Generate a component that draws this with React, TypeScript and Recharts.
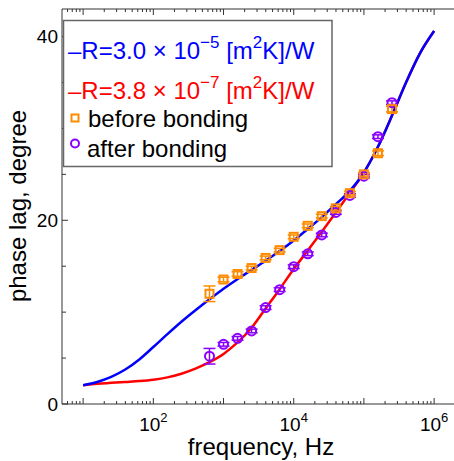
import React from 'react';
import { ComposedChart, Line, Scatter, XAxis, YAxis, ErrorBar } from 'recharts';

// Model curves (frequency in Hz, phase lag in degrees)
const curveFreq = [10, 15.85, 25.12, 39.81, 63.1, 100, 158.5, 251.2, 398.1, 631, 1000, 1585, 2512, 3981, 6310, 10000, 15849, 25119, 39811, 63096, 100000, 158489, 251189, 398107, 630957, 1000000];
const curveHighR = [2.05, 2.4, 2.95, 3.75, 4.85, 6.2, 7.6, 8.95, 10.2, 11.4, 12.55, 13.6, 14.6, 15.6, 16.65, 17.8, 19.05, 20.35, 21.75, 23.2, 25.2, 28.0, 31.4, 35.0, 38.2, 40.6];
const curveLowR = [2.05, 2.2, 2.3, 2.4, 2.5, 2.65, 2.9, 3.3, 3.85, 4.55, 5.45, 6.7, 8.3, 10.4, 12.5, 14.7, 16.7, 18.75, 20.85, 23.0, 25.2, 28.0, 31.4, 35.0, 38.2, 40.6];

// Measurements
const measFreq = [631, 1000, 1585, 2512, 3981, 6310, 10000, 15849, 25119, 39811, 63096, 100000, 158489, 251189];
const beforeVals = [12.0, 13.55, 14.15, 14.8, 15.9, 16.75, 18.2, 19.4, 20.45, 21.3, 22.95, 25.0, 27.3, 32.1];
const beforeErr = [0.85, 0.25, 0.25, 0.2, 0.2, 0.2, 0.2, 0.2, 0.2, 0.2, 0.2, 0.2, 0.25, 0.3];
const afterVals = [5.2, 6.5, 7.15, 7.95, 10.5, 12.45, 14.95, 16.35, 18.4, 20.85, 22.7, 24.8, 29.1, 32.8];
const afterErr = [0.85, 0.2, 0.2, 0.2, 0.2, 0.2, 0.2, 0.2, 0.2, 0.2, 0.2, 0.2, 0.2, 0.2];

// Ticks
const xMajorTicks = [10, 100, 1000, 10000, 100000, 1000000];
const xMinorTicks = [6, 7, 8, 9, 20, 30, 40, 50, 60, 70, 80, 90, 200, 300, 400, 500, 600, 700, 800, 900, 2000, 3000, 4000, 5000, 6000, 7000, 8000, 9000, 20000, 30000, 40000, 50000, 60000, 70000, 80000, 90000, 200000, 300000, 400000, 500000, 600000, 700000, 800000, 900000];
const xTickLabels: Record<number, string> = { 100: '2', 10000: '4', 1000000: '6' };
const yTicks = [0, 5, 10, 15, 20, 25, 30, 35, 40];
const yTickLabels = [0, 20, 40];

const BLUE = '#0000FF';
const RED = '#FF0000';
const ORANGE = '#FF8C00';
const PURPLE = '#8A00FF';
const AXIS = '#333';
const FONT = '"Liberation Sans", Arial, Helvetica, sans-serif';

const curveData = curveFreq.map((f, i) => ({ f, blue: curveHighR[i], red: curveLowR[i] }));
const beforeData = measFreq.map((f, i) => ({ f, v: beforeVals[i], err: beforeErr[i] }));
const afterData = measFreq.map((f, i) => ({ f, v: afterVals[i], err: afterErr[i] }));
const xTicks = [...xMajorTicks, ...xMinorTicks].sort((a, b) => a - b);

const BottomTick = (props: any) => {
  const { x, y, payload } = props;
  const v = payload.value;
  const major = xMajorTicks.includes(v);
  const len = major ? 6 : 3;
  const lab = xTickLabels[v];
  return (
    <g>
      <line x1={x} y1={y} x2={x} y2={y - len} stroke={AXIS} strokeWidth={1} />
      {lab && (
        <text x={x} y={y + 27} textAnchor="middle" fontSize={19} fontFamily={FONT} fill="#000">
          10<tspan dy={-9} fontSize={13}>{lab}</tspan>
        </text>
      )}
    </g>
  );
};

const TopTick = (props: any) => {
  const { x, y, payload } = props;
  const major = xMajorTicks.includes(payload.value);
  const len = major ? 6 : 3;
  return <line x1={x} y1={y} x2={x} y2={y + len} stroke={AXIS} strokeWidth={1} />;
};

const LeftTick = (props: any) => {
  const { x, y, payload } = props;
  const v = payload.value;
  const major = yTickLabels.includes(v);
  const len = major ? 6 : 4;
  return (
    <g>
      <line x1={x} y1={y} x2={x + len} y2={y} stroke={AXIS} strokeWidth={1} />
      {major && (
        <text x={x - 4} y={y} dy="0.35em" textAnchor="end" fontSize={19} fontFamily={FONT} fill="#000">
          {v}
        </text>
      )}
    </g>
  );
};

const RightTick = (props: any) => {
  const { x, y, payload } = props;
  const major = yTickLabels.includes(payload.value);
  const len = major ? 6 : 4;
  return <line x1={x} y1={y} x2={x - len} y2={y} stroke={AXIS} strokeWidth={1} />;
};

const SquareMarker = (props: any) => {
  const { cx, cy } = props;
  if (cx == null || cy == null) return null;
  return <rect x={cx - 4} y={cy - 4} width={8} height={8} fill="none" stroke={ORANGE} strokeWidth={2} />;
};

const CircleMarker = (props: any) => {
  const { cx, cy } = props;
  if (cx == null || cy == null) return null;
  return <circle cx={cx} cy={cy} r={4.5} fill="none" stroke={PURPLE} strokeWidth={2} />;
};

export default function App() {
  return (
    <div style={{ position: 'absolute', left: 0, top: 0, width: 454, height: 461, background: '#fff' }}>
      <ComposedChart
        width={454}
        height={461}
        data={curveData}
        margin={{ top: 0, right: 0, bottom: 0, left: 0 }}
      >
        <XAxis
          xAxisId="bottom"
          dataKey="f"
          type="number"
          scale="log"
          domain={[5, 1920000]}
          allowDataOverflow
          ticks={xTicks}
          interval={0}
          tick={BottomTick}
          tickLine={false}
          tickSize={0}
          tickMargin={0}
          height={57}
          stroke={AXIS}
        />
        <XAxis
          xAxisId="top"
          orientation="top"
          dataKey="f"
          type="number"
          scale="log"
          domain={[5, 1920000]}
          allowDataOverflow
          ticks={xTicks}
          interval={0}
          tick={TopTick}
          tickLine={false}
          tickSize={0}
          tickMargin={0}
          height={9}
          stroke={AXIS}
        />
        <YAxis
          yAxisId="left"
          type="number"
          domain={[0, 43]}
          allowDataOverflow
          ticks={yTicks}
          interval={0}
          tick={LeftTick}
          tickLine={false}
          tickSize={0}
          tickMargin={0}
          width={62}
          stroke={AXIS}
        />
        <YAxis
          yAxisId="right"
          orientation="right"
          type="number"
          domain={[0, 43]}
          allowDataOverflow
          ticks={yTicks}
          interval={0}
          tick={RightTick}
          tickLine={false}
          tickSize={0}
          tickMargin={0}
          width={0}
          axisLine={false}
        />
        <Line
          xAxisId="top"
          yAxisId="right"
          dataKey="blue"
          stroke="none"
          dot={false}
          activeDot={false}
          isAnimationActive={false}
        />
        <Line
          xAxisId="bottom"
          yAxisId="left"
          type="monotone"
          dataKey="red"
          stroke={RED}
          strokeWidth={2.5}
          dot={false}
          activeDot={false}
          isAnimationActive={false}
        />
        <Line
          xAxisId="bottom"
          yAxisId="left"
          type="monotone"
          dataKey="blue"
          stroke={BLUE}
          strokeWidth={2.5}
          dot={false}
          activeDot={false}
          isAnimationActive={false}
        />
        <Scatter
          xAxisId="bottom"
          yAxisId="left"
          data={afterData}
          dataKey="v"
          shape={CircleMarker}
          isAnimationActive={false}
        >
          <ErrorBar dataKey="err" direction="y" width={6} stroke={PURPLE} strokeWidth={1.5} />
        </Scatter>
        <Scatter
          xAxisId="bottom"
          yAxisId="left"
          data={beforeData}
          dataKey="v"
          shape={SquareMarker}
          isAnimationActive={false}
        >
          <ErrorBar dataKey="err" direction="y" width={6} stroke={ORANGE} strokeWidth={1.5} />
        </Scatter>
      </ComposedChart>
      <svg
        width={454}
        height={461}
        style={{ position: 'absolute', left: 0, top: 0, pointerEvents: 'none' }}
        fontFamily={FONT}
      >
        <rect x={63.5} y={20.5} width={268.5} height={146} fill="#fff" stroke="#666" strokeWidth={1.5} />
        <text x={68} y={59} fontSize={24} fill={BLUE}>
          –R=3.0 × 10<tspan dy={-11} fontSize={17}>−5</tspan>
          <tspan dy={11}> [m</tspan>
          <tspan dy={-11} fontSize={17}>2</tspan>
          <tspan dy={11}>K]/W</tspan>
        </text>
        <text x={68} y={99} fontSize={24} fill={RED}>
          –R=3.8 × 10<tspan dy={-11} fontSize={17}>−7</tspan>
          <tspan dy={11}> [m</tspan>
          <tspan dy={-11} fontSize={17}>2</tspan>
          <tspan dy={11}>K]/W</tspan>
        </text>
        <rect x={71.5} y={114.5} width={7} height={7} fill="none" stroke={ORANGE} strokeWidth={2} />
        <text x={88} y={127} fontSize={24} fill="#000">before bonding</text>
        <circle cx={75} cy={143.5} r={4} fill="none" stroke={PURPLE} strokeWidth={2} />
        <text x={87} y={157} fontSize={24} fill="#000">after bonding</text>
        <text x={261} y={455} fontSize={24} textAnchor="middle" fill="#000">frequency, Hz</text>
        <text
          x={0}
          y={0}
          fontSize={24}
          textAnchor="middle"
          fill="#000"
          transform="translate(26 206) rotate(-90)"
        >
          phase lag, degree
        </text>
      </svg>
    </div>
  );
}
